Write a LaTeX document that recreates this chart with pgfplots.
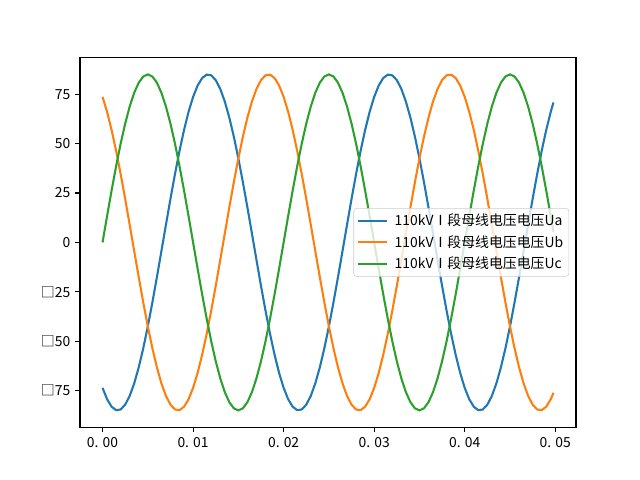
\documentclass[border=0pt]{standalone}
\usepackage{fontspec}
\setmainfont{Noto Sans CJK SC}
\usepackage{pgfplots}
\pgfplotsset{compat=1.18}
\usepackage{pgfplotstable}
\definecolor{cA}{HTML}{1F77B4}
\definecolor{cB}{HTML}{FF7F0E}
\definecolor{cC}{HTML}{2CA02C}
\pgfplotstableread{
t Ua Ub Uc
0 -73.61 73.61 0
0.0005 -79.35 66.06 13.30
0.001 -83.14 56.88 26.27
0.0015 -84.88 46.29 38.59
0.002 -84.53 34.57 49.96
0.0025 -82.10 22.00 60.10
0.003 -77.65 8.89 68.77
0.0035 -71.29 -4.45 75.74
0.004 -63.17 -17.67 80.84
0.0045 -53.49 -30.46 83.95
0.005 -42.50 -42.50 85.00
0.0055 -30.46 -53.49 83.95
0.006 -17.67 -63.17 80.84
0.0065 -4.45 -71.29 75.74
0.007 8.89 -77.65 68.77
0.0075 22.00 -82.10 60.10
0.008 34.57 -84.53 49.96
0.0085 46.29 -84.88 38.59
0.009 56.88 -83.14 26.27
0.0095 66.06 -79.35 13.30
0.010 73.61 -73.61 0
0.0105 79.35 -66.06 -13.30
0.011 83.14 -56.88 -26.27
0.0115 84.88 -46.29 -38.59
0.012 84.53 -34.57 -49.96
0.0125 82.10 -22.00 -60.10
0.013 77.65 -8.89 -68.77
0.0135 71.29 4.45 -75.74
0.014 63.17 17.67 -80.84
0.0145 53.49 30.46 -83.95
0.015 42.50 42.50 -85.00
0.0155 30.46 53.49 -83.95
0.016 17.67 63.17 -80.84
0.0165 4.45 71.29 -75.74
0.017 -8.89 77.65 -68.77
0.0175 -22.00 82.10 -60.10
0.018 -34.57 84.53 -49.96
0.0185 -46.29 84.88 -38.59
0.019 -56.88 83.14 -26.27
0.0195 -66.06 79.35 -13.30
0.020 -73.61 73.61 0
0.0205 -79.35 66.06 13.30
0.021 -83.14 56.88 26.27
0.0215 -84.88 46.29 38.59
0.022 -84.53 34.57 49.96
0.0225 -82.10 22.00 60.10
0.023 -77.65 8.89 68.77
0.0235 -71.29 -4.45 75.74
0.024 -63.17 -17.67 80.84
0.0245 -53.49 -30.46 83.95
0.025 -42.50 -42.50 85.00
0.0255 -30.46 -53.49 83.95
0.026 -17.67 -63.17 80.84
0.0265 -4.45 -71.29 75.74
0.027 8.89 -77.65 68.77
0.0275 22.00 -82.10 60.10
0.028 34.57 -84.53 49.96
0.0285 46.29 -84.88 38.59
0.029 56.88 -83.14 26.27
0.0295 66.06 -79.35 13.30
0.030 73.61 -73.61 0
0.0305 79.35 -66.06 -13.30
0.031 83.14 -56.88 -26.27
0.0315 84.88 -46.29 -38.59
0.032 84.53 -34.57 -49.96
0.0325 82.10 -22.00 -60.10
0.033 77.65 -8.89 -68.77
0.0335 71.29 4.45 -75.74
0.034 63.17 17.67 -80.84
0.0345 53.49 30.46 -83.95
0.035 42.50 42.50 -85.00
0.0355 30.46 53.49 -83.95
0.036 17.67 63.17 -80.84
0.0365 4.45 71.29 -75.74
0.037 -8.89 77.65 -68.77
0.0375 -22.00 82.10 -60.10
0.038 -34.57 84.53 -49.96
0.0385 -46.29 84.88 -38.59
0.039 -56.88 83.14 -26.27
0.0395 -66.06 79.35 -13.30
0.040 -73.61 73.61 0
0.0405 -79.35 66.06 13.30
0.041 -83.14 56.88 26.27
0.0415 -84.88 46.29 38.59
0.042 -84.53 34.57 49.96
0.0425 -82.10 22.00 60.10
0.043 -77.65 8.89 68.77
0.0435 -71.29 -4.45 75.74
0.044 -63.17 -17.67 80.84
0.0445 -53.49 -30.46 83.95
0.045 -42.50 -42.50 85.00
0.0455 -30.46 -53.49 83.95
0.046 -17.67 -63.17 80.84
0.0465 -4.45 -71.29 75.74
0.047 8.89 -77.65 68.77
0.0475 22.00 -82.10 60.10
0.048 34.57 -84.53 49.96
0.0485 46.29 -84.88 38.59
0.049 56.88 -83.14 26.27
0.0495 66.06 -79.35 13.30
0.0498 70.80 -76.13 5.34
}\data
\begin{document}
\begin{tikzpicture}
\useasboundingbox (0,0) rectangle (460.8pt,345.6pt);
\begin{axis}[
  at={(57.6pt,38.02pt)}, anchor=south west,
  scale only axis, width=357.12pt, height=266.11pt,
  xmin=-0.00249, xmax=0.05229, ymin=-93.5, ymax=93.5,
  scaled x ticks=false, scaled y ticks=false,
  xtick={0,0.01,0.02,0.03,0.04,0.05},
  xticklabels={0. 00,0. 01,0. 02,0. 03,0. 04,0. 05},
  ytick={-75,-50,-25,0,25,50,75},
  yticklabels={□75,□50,□25,0,25,50,75},
  tick align=outside, tick pos=left,
  major tick length=3.5pt,
  every tick/.style={black, line width=0.8pt},
  axis line style={line width=0.8pt},
  tick label style={font=\fontsize{10}{12}\selectfont},
  /pgf/number format/assume math mode=true,
  legend cell align=left,
  legend style={at={(1,0.5)}, anchor=east, xshift=-5pt,
    draw=black!20, rounded corners=2pt, fill=white, fill opacity=0.8, text opacity=1,
    font=\fontsize{10}{12}\selectfont, inner xsep=2pt, inner ysep=2pt, row sep=1.5pt,
    /tikz/every odd column/.append style={column sep=3pt}},
  legend image code/.code={\draw[#1] (0pt,0pt) -- (21pt,0pt);},
]
\addplot[cA, line width=1.5pt] table[x=t, y=Ua] {\data};
\addlegendentry{110kVⅠ段母线电压电压Ua}
\addplot[cB, line width=1.5pt] table[x=t, y=Ub] {\data};
\addlegendentry{110kVⅠ段母线电压电压Ub}
\addplot[cC, line width=1.5pt] table[x=t, y=Uc] {\data};
\addlegendentry{110kVⅠ段母线电压电压Uc}
\end{axis}
\end{tikzpicture}
\end{document}
